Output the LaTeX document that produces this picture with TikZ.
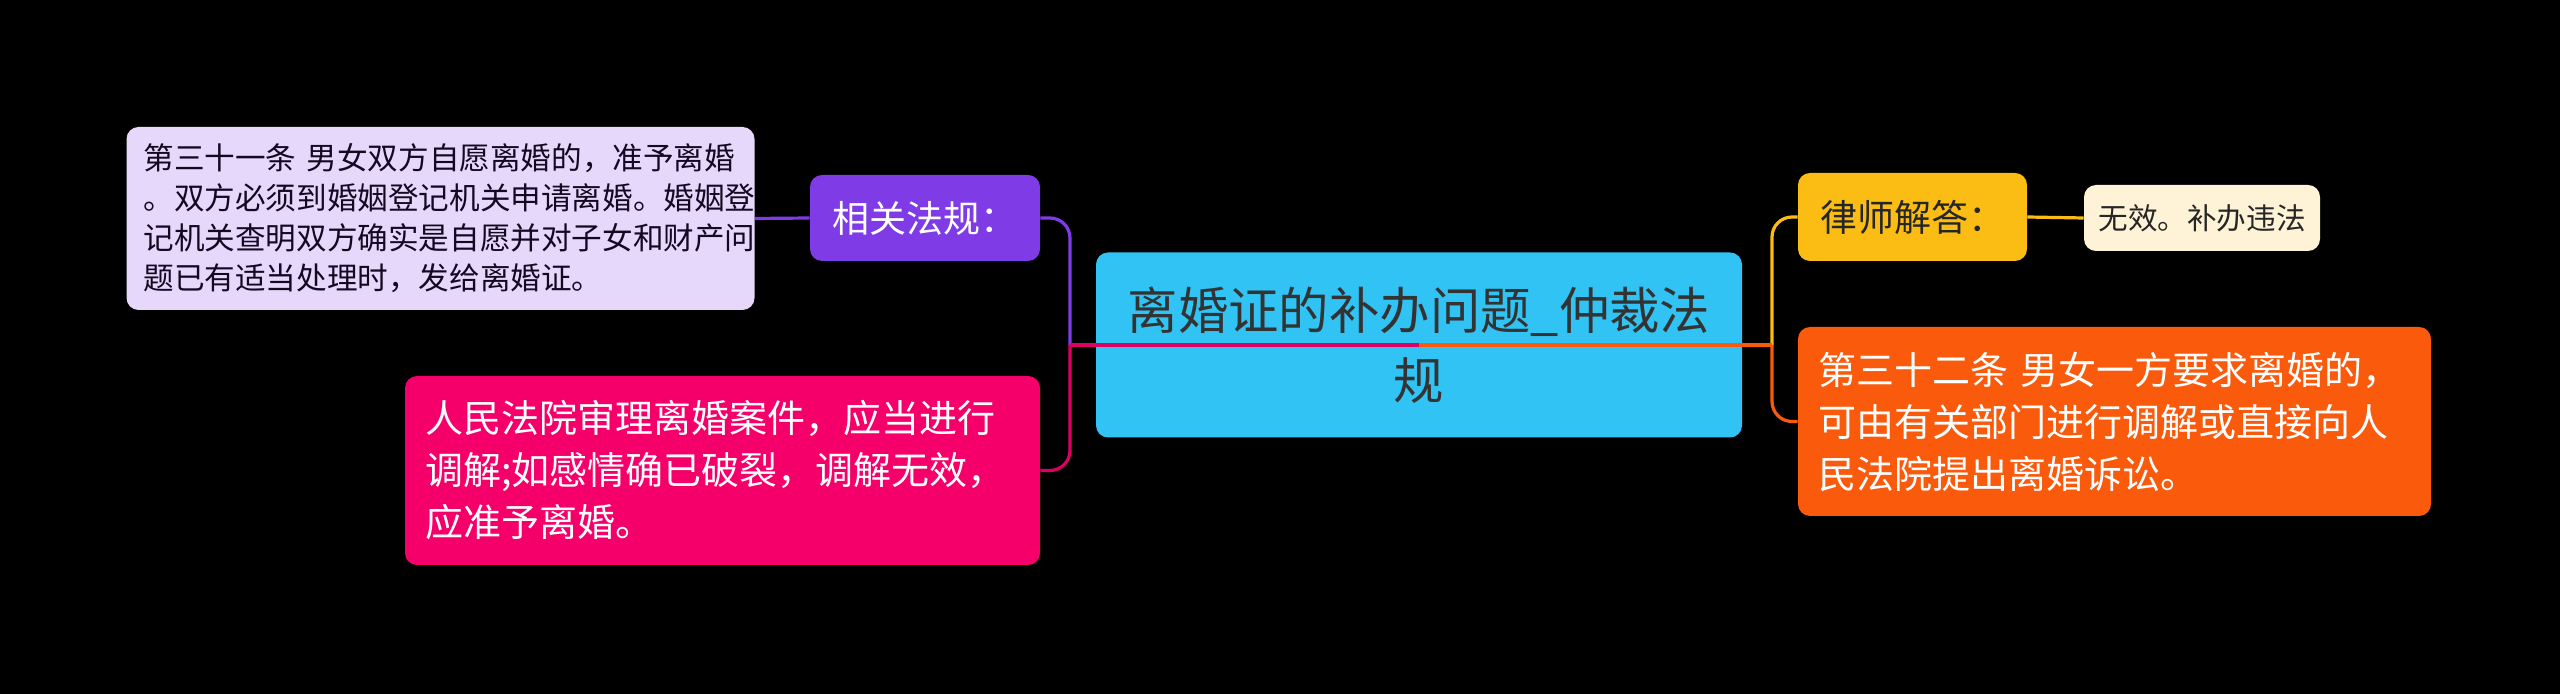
\documentclass[tikz,border=0pt]{standalone}
\usepackage{fontspec}
\setmainfont{Noto Sans CJK SC}
\usetikzlibrary{positioning}

\definecolor{rootblue}{HTML}{30C3F4}
\definecolor{lawpurple}{HTML}{7F3BE6}
\definecolor{lawlight}{HTML}{E6D8FA}
\definecolor{courtpink}{HTML}{F5006B}
\definecolor{answeryellow}{HTML}{FBBD14}
\definecolor{verdictcream}{HTML}{FEF3D6}
\definecolor{artorange}{HTML}{FA5A0C}

\tikzset{
  box/.style={rounded corners=6pt, inner sep=0pt, align=left},
  link/.style={line width=1.6pt},
}

\begin{document}
\begin{tikzpicture}[x=0.5pt, y=-0.5pt]
    % Fondo
    \fill[black] (0,0) rectangle (2560,694);
    \useasboundingbox (0,0) rectangle (2560,694);

    % Tema central
    \node[box, fill=rootblue, text=black!80, minimum width=323pt, minimum height=92.5pt,
      align=center, font=\fontsize{25.2pt}{35pt}\selectfont]
      (root) at (1419,345) {离婚证的补办问题\_仲裁法\\规};

    % Rama izquierda
    \node[box, fill=lawpurple, text=white, minimum width=115pt, minimum height=43pt,
      align=center, font=\fontsize{18.5pt}{22pt}\selectfont]
      (law) at (925,218) {相关法规：};
    \node[box, fill=lawlight, text=black!85!lawpurple, minimum height=91.5pt,
      text width=297pt, inner xsep=8.5pt, font=\fontsize{15.3pt}{20pt}\selectfont]
      (lawtext) at (440.5,218.5)
      {第三十一条 男女双方自愿离婚的，准予离婚\\。双方必须到婚姻登记机关申请离婚。婚姻登\\记机关查明双方确实是自愿并对子女和财产问\\题已有适当处理时，发给离婚证。};
    \node[box, fill=courtpink, text=white, minimum height=94.5pt,
      text width=297.5pt, inner xsep=10pt, font=\fontsize{19pt}{26pt}\selectfont]
      (court) at (722.5,470.5)
      {人民法院审理离婚案件，应当进行\\调解;如感情确已破裂，调解无效，\\应准予离婚。};

    % Rama derecha
    \node[box, fill=answeryellow, text=black!85, minimum width=114.5pt, minimum height=44pt,
      align=center, font=\fontsize{18.5pt}{22pt}\selectfont]
      (answer) at (1912.5,217) {律师解答：};
    \node[box, fill=verdictcream, text=black!85, minimum width=118pt, minimum height=33pt,
      align=center, font=\fontsize{14.8pt}{18pt}\selectfont]
      (verdict) at (2202,218) {无效。补办违法};
    \node[box, fill=artorange, text=white, minimum height=94.5pt,
      text width=296.5pt, inner xsep=10pt, font=\fontsize{19pt}{26pt}\selectfont]
      (art32) at (2114.5,421.5)
      {第三十二条 男女一方要求离婚的，\\可由有关部门进行调解或直接向人\\民法院提出离婚诉讼。};

    % Conectores
    \coordinate (lj) at (1070,345);
    \coordinate (rj) at (1772,345);
    \draw[link, lawpurple] (root.center) -- (lj);
    \draw[link, lawpurple, rounded corners=10pt] (lj) |- (law.east);
    \draw[link, lawpurple] (law.west) -- (lawtext.east);
    \draw[link, answeryellow] (root.center) -- (rj);
    \draw[link, answeryellow, rounded corners=10pt] (rj) |- (answer.west);
    \draw[link, answeryellow] (answer.east) -- (verdict.west);
    \draw[link, courtpink!90!black] (root.center) -- (lj);
    \draw[link, courtpink!90!black, rounded corners=10pt] (lj) |- (court.east);
    \draw[link, artorange] (root.center) -- (rj);
    \draw[link, artorange, rounded corners=10pt] (rj) |- (art32.west);
\end{tikzpicture}
\end{document}
